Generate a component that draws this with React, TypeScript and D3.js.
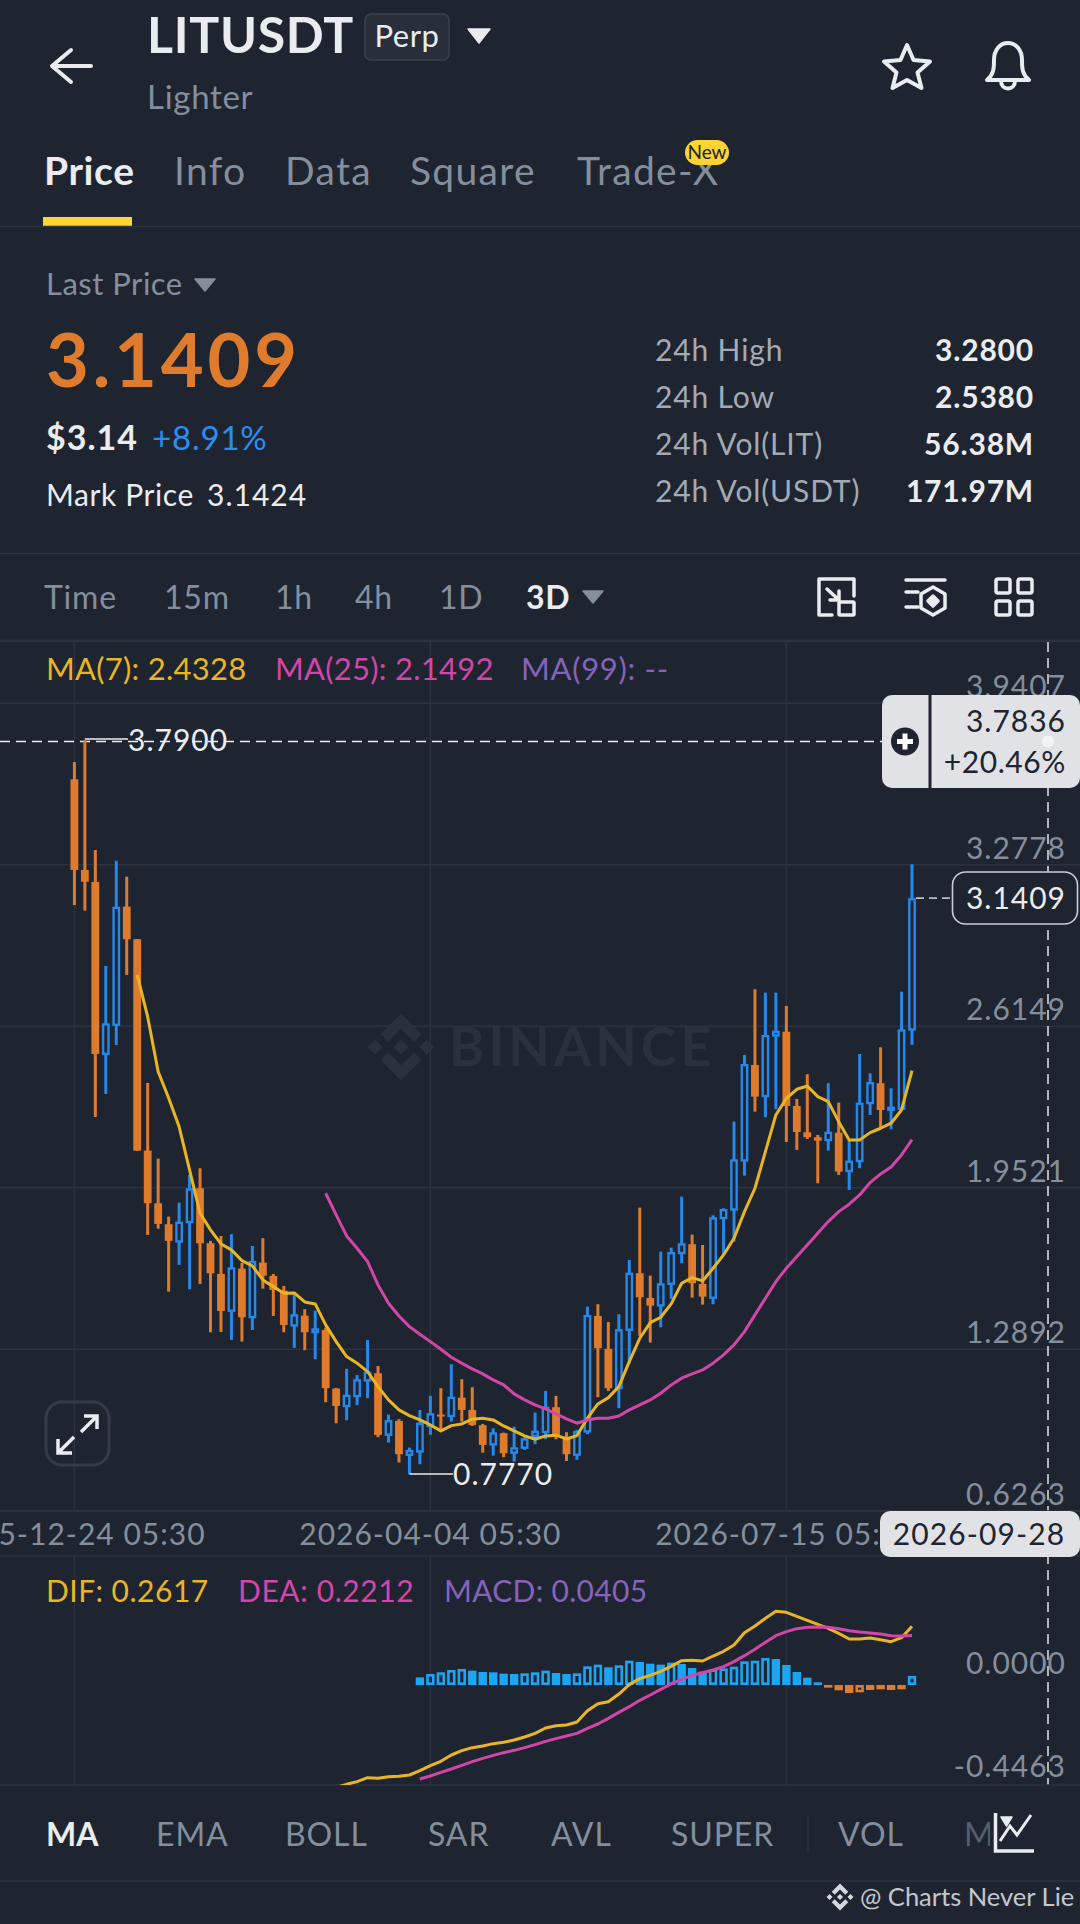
// App.tsx - LITUSDT perp candlestick screen
import React from 'react';
import * as d3 from 'd3';

// candles, oldest first (3D)
const opens = [
  3.6288, 3.2565, 3.2073, 2.4971, 2.6162, 3.1058, 2.972, 2.1043, 1.8883, 1.8022,
  1.7267, 1.8064, 1.95, 1.7242, 1.5982, 1.4422, 1.62, 1.4164, 1.6445, 1.59,
  1.5297, 1.3819, 1.427, 1.3548, 1.3684, 1.1275, 1.0511, 1.0922, 1.1563, 1.1906,
  0.9333, 0.9949, 0.8512, 0.8648, 0.969, 1.0208, 1.0101, 1.0904, 1.04, 0.9772,
  0.8935, 0.9443, 0.8595, 0.88, 0.928, 0.9444, 1.0511, 0.9305, 0.8512, 0.9468,
  1.4259, 1.2905, 1.125, 1.3642, 1.6011, 1.4997, 1.464, 1.553, 1.6791, 1.7201,
  1.5572, 1.4957, 1.8228, 1.8581, 2.0592, 2.4561, 2.3235, 2.5722, 2.5927, 2.2877,
  2.1798, 2.1593, 2.1429, 2.1782, 2.0158, 2.0567, 2.2948, 2.381, 2.2673, 2.2714,
  2.5968,
];
const closes = [
  3.2565, 3.2085, 2.5012, 2.6273, 3.1058, 2.972, 2.1043, 1.8883, 1.8035, 1.7337,
  1.8129, 1.95, 1.7242, 1.6011, 1.4463, 1.6257, 1.4204, 1.6517, 1.5912, 1.5326,
  1.3889, 1.4328, 1.3589, 1.3754, 1.1292, 1.0565, 1.1028, 1.1661, 1.1973, 0.9374,
  0.999, 0.8582, 0.8758, 0.9879, 1.0265, 1.0126, 1.0945, 1.04, 0.9784, 0.8963,
  0.9485, 0.8622, 0.887, 0.9239, 0.9551, 1.0536, 0.9374, 0.8582, 0.9539, 1.43,
  1.2934, 1.1292, 1.3713, 1.6036, 1.5026, 1.4681, 1.56, 1.6885, 1.7242, 1.56,
  1.505, 1.8309, 1.865, 2.069, 2.4602, 2.326, 2.5792, 2.5968, 2.2877, 2.181,
  2.1593, 2.1454, 2.1823, 2.0182, 2.0634, 2.3013, 2.3863, 2.2714, 2.285, 2.6026,
  3.1409,
];
const highs = [
  3.6998, 3.79, 3.3386, 2.8624, 3.2946, 3.229, 2.972, 2.3822, 2.0715, 1.8334,
  1.891, 2.0046, 2.0321, 1.7337, 1.7542, 1.7612, 1.6435, 1.7132, 1.7447, 1.5982,
  1.549, 1.5121, 1.4533, 1.4477, 1.3779, 1.1304, 1.2084, 1.1837, 1.3273, 1.2205,
  1.0208, 1.0019, 0.8853, 1.04, 1.0976, 1.1292, 1.2276, 1.1661, 1.1333, 0.9825,
  0.9649, 0.9468, 0.9715, 0.9305, 1.029, 1.118, 1.0976, 0.9485, 0.958, 1.464,
  1.4739, 1.4012, 1.4328, 1.6557, 1.8704, 1.5913, 1.6898, 1.7062, 1.9155, 1.7596,
  1.7172, 1.8391, 1.8679, 2.2233, 2.4971, 2.7669, 2.7529, 2.7529, 2.6983, 2.3166,
  2.418, 2.1688, 2.381, 2.3013, 2.1483, 2.5012, 2.422, 2.5288, 2.3604, 2.757,
  3.28,
];
const lows = [
  3.1128, 3.0894, 2.2427, 2.337, 2.5382, 2.8255, 2.1031, 1.7583, 1.7842, 1.5256,
  1.6352, 1.5354, 1.5572, 1.3589, 1.36, 1.3274, 1.3204, 1.3683, 1.5378, 1.4258,
  1.3589, 1.2946, 1.2851, 1.2481, 1.0716, 0.9855, 0.9977, 1.0594, 1.0881, 0.928,
  0.9058, 0.8238, 0.777, 0.8171, 0.9374, 0.9608, 0.9921, 0.9921, 0.9743, 0.8647,
  0.8524, 0.8458, 0.8279, 0.8759, 0.8993, 0.9197, 0.9197, 0.8307, 0.8348, 0.9403,
  1.0922, 1.118, 1.047, 1.2317, 1.3436, 1.3164, 1.3794, 1.4955, 1.6421, 1.5009,
  1.4722, 1.4739, 1.6762, 1.7308, 2.0017, 2.2645, 2.2414, 2.2743, 2.1399, 2.1073,
  2.1523, 1.9704, 2.1043, 2.0046, 1.9431, 2.0321, 2.2506, 2.1975, 2.192, 2.2714,
  2.5382,
];

// MA(7) starts at candle 6, MA(25) at candle 24
const ma7Start = 6;
const ma7 = [
  2.8255, 2.6531, 2.4286, 2.3207, 2.2029, 2.0251, 1.8474, 1.7789, 1.7214, 1.6968,
  1.6528, 1.6311, 1.5736, 1.5461, 1.519, 1.5203, 1.4834, 1.4752, 1.389, 1.3204,
  1.2589, 1.2318, 1.1973, 1.1357, 1.0811, 1.04, 1.0166, 0.999, 0.9784, 0.9538,
  0.9756, 0.9825, 1.0018, 1.0059, 0.999, 0.9743, 0.9538, 0.9333, 0.9197, 0.9333,
  0.9362, 0.9208, 0.9346, 1.0059, 1.0646, 1.0904, 1.1357, 1.2382, 1.3342, 1.3983,
  1.4204, 1.4752, 1.56, 1.583, 1.5695, 1.6216, 1.6762, 1.7447, 1.8539, 1.95,
  2.1002, 2.2509, 2.3194, 2.3563, 2.3699, 2.326, 2.3055, 2.2234, 2.1483, 2.1483,
  2.1783, 2.1963, 2.2169, 2.2714, 2.4328,
];
const ma25Start = 24;
const ma25 = [
  1.9294, 1.8404, 1.7543, 1.7037, 1.6488, 1.5531, 1.478, 1.4254, 1.382, 1.3507,
  1.3204, 1.2892, 1.2564, 1.2318, 1.2084, 1.1879, 1.1632, 1.1427, 1.1058, 1.0811,
  1.0606, 1.0441, 1.0236, 1.0031, 0.9854, 0.999, 1.0059, 1.0059, 1.0153, 1.04,
  1.0606, 1.0811, 1.1086, 1.1427, 1.1702, 1.1879, 1.2043, 1.2318, 1.2659, 1.3069,
  1.3615, 1.43, 1.4986, 1.5668, 1.6217, 1.6694, 1.7174, 1.7654, 1.813, 1.8541,
  1.8845, 1.9226, 1.9732, 2.0089, 2.0375, 2.0868, 2.1492,
];

// MACD panel
const difStart = 25;
const dif = [
  -0.4567, -0.4433, -0.4314, -0.4136, -0.4165, -0.4091, -0.4069, -0.4017, -0.3823, -0.36,
  -0.3407, -0.3124, -0.2931, -0.2797, -0.2722, -0.2618, -0.2559, -0.2455, -0.2321, -0.2157,
  -0.1919, -0.1815, -0.1785, -0.1651, -0.1145, -0.0833, -0.0744, -0.0402, 0.0015, 0.0283,
  0.0431, 0.061, 0.0833, 0.1086, 0.1101, 0.1071, 0.1294, 0.1503, 0.1785, 0.2336,
  0.2633, 0.2975, 0.3288, 0.3243, 0.3065, 0.2886, 0.2708, 0.2529, 0.2306, 0.2053,
  0.2053, 0.2098, 0.2023, 0.1934, 0.2112, 0.2617,
];
const macdStart = 33;
const dea = [
  -0.4195, -0.4061, -0.3898, -0.3749, -0.3585, -0.3422, -0.3273, -0.3139, -0.302, -0.2916,
  -0.2797, -0.2663, -0.2514, -0.2395, -0.2276, -0.2157, -0.1934, -0.1741, -0.1488, -0.122,
  -0.0967, -0.0684, -0.0446, -0.0193, 0.0045, 0.0253, 0.0431, 0.055, 0.0669, 0.0818,
  0.1041, 0.1309, 0.1592, 0.1904, 0.2202, 0.238, 0.2514, 0.2574, 0.2589, 0.2574,
  0.2514, 0.2425, 0.2365, 0.2321, 0.2276, 0.2202, 0.2187, 0.2212,
];
const macdHist = [
  0.034, 0.049, 0.0565, 0.067, 0.0714, 0.064, 0.058, 0.0565, 0.0506, 0.049,
  0.052, 0.0565, 0.064, 0.0536, 0.049, 0.052, 0.0833, 0.0907, 0.0788, 0.0878,
  0.1086, 0.1026, 0.0952, 0.0907, 0.0997, 0.0937, 0.0759, 0.0595, 0.0699, 0.0744,
  0.0818, 0.1056, 0.1086, 0.1205, 0.116, 0.0893, 0.058, 0.0327, 0.0119, -0.0119,
  -0.0238, -0.0357, -0.0327, -0.0223, -0.0193, -0.0223, -0.0193, 0.0405,
];
// candles whose histogram bar is drawn hollow
const macdHollow = [34, 35, 36, 37, 43, 44, 45, 48, 49, 50, 52, 53, 57, 61, 62, 63, 64, 65, 66, 75, 76, 80];

const priceTicks = [3.9407, 3.2778, 2.6149, 1.9521, 1.2892, 0.6263];
const timeTicks = [
  { index: 0, label: '2025-12-24 05:30' },
  { index: 34, label: '2026-04-04 05:30' },
  { index: 68, label: '2026-07-15 05:30' },
];
const navTabs = ['Price', 'Info', 'Data', 'Square', 'Trade-X'];
const navX = [44, 174, 285, 410, 577];
const intervals = ['Time', '15m', '1h', '4h', '1D', '3D'];
const intervalX = [44, 164, 275, 355, 439, 526];
const indicators = ['MA', 'EMA', 'BOLL', 'SAR', 'AVL', 'SUPER', 'VOL', 'M'];
const indicatorX = [46, 156, 285, 428, 551, 671, 838, 964];
const statLabels = ['24h High', '24h Low', '24h Vol(LIT)', '24h Vol(USDT)'];
const statValues = ['3.2800', '2.5380', '56.38M', '171.97M'];
const statY = [361, 408, 455, 502];

const BG = '#1E2530';
const GRID = '#2C333F';
const GRAY = '#848E9C';
const WHITE = '#EAECEF';
const UP = '#2688E8';
const DOWN = '#DF7B2C';
const HIST_UP = '#1BA6F5';
const YELLOW = '#E9B525';
const PINK = '#D345A8';
const PURPLE = '#8562BC';
const FONT = 'Lato, "Noto Sans", sans-serif';

const x = d3.scaleLinear().domain([0, 80]).range([74.4, 912]);
const y = d3.scaleLinear().domain([0.6263, 3.9407]).range([1510.7, 703.3]);
const yMacd = d3.scaleLinear().domain([-0.4463, 0]).range([1785, 1685]);

const pathFrom = (values: number[], start: number, scale: (v: number) => number) =>
  d3
    .line<number>()
    .x((_, i) => x(start + i))
    .y((d) => scale(d))(values) ?? '';

const LOGO =
  'M38.73 53.2l24.59-24.58 24.6 24.6 14.3-14.31L63.32 0 24.43 38.9zM0 63.31l14.3-14.31 14.31 14.31-14.31 14.3zM38.73 73.41l24.59 24.59 24.6-24.6 14.31 14.29-38.9 38.91-38.91-38.88-.02-.02zM98 63.31l14.3-14.31 14.31 14.3-14.31 14.32zM77.83 63.3L63.32 48.78 52.59 59.51l-1.24 1.23-2.54 2.54 14.51 14.5 14.51-14.47z';

const Logo = ({ cx, cy, size, fill }: { cx: number; cy: number; size: number; fill: string }) => (
  <path
    d={LOGO}
    fill={fill}
    transform={`translate(${cx - size / 2},${cy - size / 2}) scale(${size / 126.61})`}
  />
);

const Caret = ({ x0, x1, y0, y1, fill }: { x0: number; x1: number; y0: number; y1: number; fill: string }) => (
  <path d={`M${x0} ${y0}H${x1}L${(x0 + x1) / 2} ${y1}Z`} fill={fill} stroke={fill} strokeWidth={1.5} strokeLinejoin="round" />
);

export default function App() {
  const yearGridX = timeTicks.map((t) => x(t.index));
  const barW = 7.8;
  const histW = 8.4;

  return (
    <svg
      width={1080}
      height={1924}
      viewBox="0 0 1080 1924"
      style={{ position: 'absolute', left: 0, top: 0, display: 'block', background: BG }}
      fontFamily={FONT}
    >
      <defs>
        <clipPath id="macd-clip">
          <rect x={0} y={1556} width={1080} height={229} />
        </clipPath>
      </defs>
      <rect width={1080} height={1924} fill={BG} />

      {/* header */}
      <path d="M91 66H53M71 50L52 66L71 82" fill="none" stroke={WHITE} strokeWidth={4} strokeLinecap="round" strokeLinejoin="round" />
      <text x={147} y={53} fontSize={50} fontWeight={700} fill={WHITE} letterSpacing={0.7}>LITUSDT</text>
      <rect x={365} y={14} width={84} height={46} rx={6} fill="#282F3A" stroke="#3A414D" strokeWidth={1.5} />
      <text x={407} y={47} fontSize={31} fill={WHITE} textAnchor="middle" letterSpacing={0.5}>Perp</text>
      <Caret x0={468} x1={490} y0={29} y1={43} fill={WHITE} />
      <text x={147} y={109} fontSize={33} fill={GRAY} letterSpacing={0.7}>Lighter</text>
      <path
        d="M907 45L913.5 60L930 61.5L917.5 72.5L921.5 88L907 80L892.5 88L896.5 72.5L884 61.5L900.5 60Z"
        fill="none"
        stroke={WHITE}
        strokeWidth={4}
        strokeLinejoin="round"
      />
      <path
        d="M987 80C994 74 994 68 994 60C994 50 1000 43 1008 43C1016 43 1022 50 1022 60C1022 68 1022 74 1029 80Z M1001 81C1001 91 1015 91 1015 81"
        fill="none"
        stroke={WHITE}
        strokeWidth={4}
        strokeLinejoin="round"
      />

      {/* nav tabs */}
      {navTabs.map((t, i) => (
        <text key={t} x={navX[i]} y={185} fontSize={39} fontWeight={i === 0 ? 700 : 400} fill={i === 0 ? WHITE : GRAY} letterSpacing={i === 0 ? 0.6 : 1.3}>
          {t}
        </text>
      ))}
      <rect x={43} y={217} width={89} height={9} fill="#FCD535" />
      <line x1={0} x2={1080} y1={226.5} y2={226.5} stroke={GRID} strokeWidth={1.5} />
      <rect x={685} y={140} width={44} height={25} rx={12.5} fill="#FCD535" />
      <text x={707} y={159} fontSize={19} fill="#1E2329" textAnchor="middle">New</text>

      {/* price block */}
      <text x={46} y={295} fontSize={31} fill={GRAY} letterSpacing={0.5}>Last Price</text>
      <Caret x0={195} x1={215} y0={279} y1={291} fill={GRAY} />
      <text x={46} y={387} fontSize={74} fontWeight={700} fill={DOWN} letterSpacing={3.8}>3.1409</text>
      <text x={46} y={450} fontSize={34} fontWeight={700} fill={WHITE} letterSpacing={1}>$3.14</text>
      <text x={152} y={450} fontSize={33} fill="#2B8EEF" letterSpacing={0.8}>+8.91%</text>
      <text x={46} y={506} fontSize={30} fill={WHITE} letterSpacing={0.6}>Mark Price</text>
      <text x={207} y={506} fontSize={30} fill={WHITE} letterSpacing={1}>3.1424</text>
      {statLabels.map((t, i) => (
        <text key={t} x={655} y={statY[i]} fontSize={30} fill="#A4AAB4" letterSpacing={0.85}>{t}</text>
      ))}
      {statValues.map((t, i) => (
        <text key={t} x={1034} y={statY[i]} fontSize={30} fontWeight={700} fill={WHITE} textAnchor="end" letterSpacing={0.8}>{t}</text>
      ))}
      <line x1={0} x2={1080} y1={553.5} y2={553.5} stroke={GRID} strokeWidth={1.5} />

      {/* interval row */}
      {intervals.map((t, i) => (
        <text key={t} x={intervalX[i]} y={609} fontSize={32} fontWeight={t === '3D' ? 700 : 400} fill={t === '3D' ? WHITE : GRAY} letterSpacing={0.8}>
          {t}
        </text>
      ))}
      <Caret x0={583} x1={603} y0={591} y1={603} fill={GRAY} />
      <g fill="none" stroke={WHITE} strokeWidth={3.5} strokeLinecap="round" strokeLinejoin="round">
        <path d="M832 615H819V579H854V596" />
        <rect x={839} y={602} width={15} height={13} rx={1} />
        <path d="M827 589L839 600M839 591V600H830" />
        <path d="M906 580H945M906 592H918M906 607H918" />
        <path d="M933 587L945 594V608L933 615L921 608V594Z" />
        <path d="M933 596L938 601L933 606L928 601Z" fill={WHITE} />
        <rect x={996} y={579} width={14} height={14} rx={2} />
        <rect x={1018} y={579} width={14} height={14} rx={2} />
        <rect x={996} y={601} width={14} height={14} rx={2} />
        <rect x={1018} y={601} width={14} height={14} rx={2} />
      </g>

      {/* grid */}
      <line x1={0} x2={1080} y1={641} y2={641} stroke={GRID} strokeWidth={2.5} />
      {priceTicks.map((p) => (
        <line key={p} x1={0} x2={1080} y1={y(p)} y2={y(p)} stroke={GRID} strokeWidth={1.5} />
      ))}
      {yearGridX.map((gx) => (
        <line key={gx} x1={gx} x2={gx} y1={642} y2={1511} stroke={GRID} strokeWidth={1.5} />
      ))}

      {/* watermark */}
      <Logo cx={401} cy={1047} size={67} fill="#2A313C" />
      <text x={449} y={1066} fontSize={54} fontWeight={700} fill="#2A313C" letterSpacing={3.9}>BINANCE</text>

      {/* legend */}
      <text x={46} y={680} fontSize={31} fill={YELLOW} letterSpacing={0.25}>MA(7): 2.4328</text>
      <text x={275} y={680} fontSize={31} fill={PINK} letterSpacing={0.25}>MA(25): 2.1492</text>
      <text x={521} y={680} fontSize={31} fill={PURPLE} letterSpacing={0.7}>MA(99): --</text>

      {/* axis labels */}
      {priceTicks.map((p) => (
        <text key={p} x={1066} y={y(p) - 6} fontSize={30} fill={GRAY} textAnchor="end" letterSpacing={1}>
          {p.toFixed(4)}
        </text>
      ))}

      {/* crosshair */}
      <line x1={0} x2={882} y1={y(3.7836)} y2={y(3.7836)} stroke={WHITE} strokeWidth={1.6} strokeDasharray="10 6" />
      <line x1={1048} x2={1048} y1={642} y2={1785} stroke={WHITE} strokeWidth={1.6} strokeDasharray="10 6" opacity={0.9} />

      {/* candles */}
      {opens.map((o, i) => {
        const c = closes[i];
        const up = c >= o;
        const color = up ? UP : DOWN;
        const top = y(Math.max(o, c));
        const bottom = y(Math.min(o, c));
        return (
          <g key={i}>
            <line x1={x(i)} x2={x(i)} y1={y(highs[i])} y2={y(lows[i])} stroke={color} strokeWidth={3} />
            {up ? (
              <rect x={x(i) - barW / 2 + 1.2} y={top + 1.2} width={barW - 2.4} height={Math.max(bottom - top - 2.4, 0.5)} fill={BG} stroke={color} strokeWidth={2.4} />
            ) : (
              <rect x={x(i) - barW / 2} y={top} width={barW} height={Math.max(bottom - top, 1.5)} fill={color} />
            )}
          </g>
        );
      })}

      {/* moving averages */}
      <path d={pathFrom(ma7, ma7Start, y)} fill="none" stroke={YELLOW} strokeWidth={3} strokeLinejoin="round" />
      <path d={pathFrom(ma25, ma25Start, y)} fill="none" stroke={PINK} strokeWidth={3} strokeLinejoin="round" />

      {/* high / low markers */}
      <line x1={x(1)} x2={128} y1={y(3.79) - 1} y2={y(3.79) - 1} stroke={WHITE} strokeWidth={1.5} />
      <text x={128} y={751} fontSize={30} fill={WHITE} letterSpacing={1}>3.7900</text>
      <line x1={x(32)} x2={453} y1={y(0.777)} y2={y(0.777)} stroke={WHITE} strokeWidth={1.5} />
      <text x={453} y={1485} fontSize={30} fill={WHITE} letterSpacing={1}>0.7770</text>

      {/* add-order box */}
      <rect x={882} y={695} width={198} height={93} rx={10} fill="#E0E2E6" />
      <rect x={928.5} y={695} width={3} height={93} fill={BG} />
      <circle cx={905} cy={741.5} r={14} fill={BG} />
      <path d="M905 733.5V749.5M897 741.5H913" stroke="#FFFFFF" strokeWidth={5} />
      <circle cx={1048} cy={741.5} r={6} fill="#FFFFFF" opacity={0.6} />
      <text x={1066} y={732} fontSize={30} fill={BG} textAnchor="end" letterSpacing={1}>3.7836</text>
      <text x={1066} y={773} fontSize={30} fill={BG} textAnchor="end" letterSpacing={0.6}>+20.46%</text>

      {/* last price tag */}
      <line x1={x(80) + 4} x2={952} y1={y(3.1409)} y2={y(3.1409)} stroke="#B7BDC6" strokeWidth={1.6} strokeDasharray="8 5" />
      <rect x={952.5} y={872} width={125} height={52} rx={13} fill={BG} stroke="#C9CDD3" strokeWidth={1.6} />
      <text x={1066} y={909} fontSize={30} fill={WHITE} textAnchor="end" letterSpacing={1}>3.1409</text>

      {/* expand button */}
      <rect x={46} y={1402} width={63} height={63} rx={16} fill="none" stroke="#353C48" strokeWidth={3} />
      <path d="M81 1432L96 1417M84 1416H97V1429M74 1437L59 1452M58 1439V1453H72" fill="none" stroke={WHITE} strokeWidth={3.5} />

      {/* time axis */}
      <line x1={0} x2={1080} y1={1511} y2={1511} stroke={GRID} strokeWidth={1.5} />
      <line x1={0} x2={1080} y1={1556} y2={1556} stroke={GRID} strokeWidth={1.5} />
      {timeTicks.map((t) => (
        <text key={t.label} x={x(t.index)} y={1545} fontSize={30} fill={GRAY} textAnchor="middle" letterSpacing={1}>
          {t.label}
        </text>
      ))}
      <rect x={880} y={1511} width={200} height={46} rx={10} fill="#E0E2E6" />
      <text x={979} y={1545} fontSize={30} fill={BG} textAnchor="middle" letterSpacing={1.1}>2026-09-28</text>

      {/* MACD panel */}
      {yearGridX.map((gx) => (
        <line key={gx} x1={gx} x2={gx} y1={1556} y2={1785} stroke={GRID} strokeWidth={1.5} />
      ))}
      <line x1={0} x2={1080} y1={1785} y2={1785} stroke={GRID} strokeWidth={1.5} />
      <text x={46} y={1602} fontSize={30} fill={YELLOW} letterSpacing={0.5}>DIF: 0.2617</text>
      <text x={238} y={1602} fontSize={30} fill={PINK} letterSpacing={0.6}>DEA: 0.2212</text>
      <text x={444} y={1602} fontSize={30} fill={PURPLE} letterSpacing={0.3}>MACD: 0.0405</text>
      <text x={1066} y={1674} fontSize={30} fill={GRAY} textAnchor="end" letterSpacing={1}>0.0000</text>
      <text x={1066} y={1777} fontSize={30} fill={GRAY} textAnchor="end" letterSpacing={1}>-0.4463</text>
      {macdHist.map((v, i) => {
        const idx = macdStart + i;
        const color = v >= 0 ? HIST_UP : DOWN;
        const top = Math.min(yMacd(v), yMacd(0));
        const h = Math.abs(yMacd(v) - yMacd(0));
        return macdHollow.includes(idx) ? (
          <rect key={idx} x={x(idx) - histW / 2 + 1.3} y={top + 1.3} width={histW - 2.6} height={Math.max(h - 2.6 , 0.5)} fill={BG} stroke={color} strokeWidth={2.6} />
        ) : (
          <rect key={idx} x={x(idx) - histW / 2} y={top} width={histW} height={Math.max(h, 1.5)} fill={color} />
        );
      })}
      <g clipPath="url(#macd-clip)">
        <path d={pathFrom(dif, difStart, yMacd)} fill="none" stroke={YELLOW} strokeWidth={3} strokeLinejoin="round" />
        <path d={pathFrom(dea, macdStart, yMacd)} fill="none" stroke={PINK} strokeWidth={3} strokeLinejoin="round" />
      </g>

      {/* indicator bar */}
      {indicators.map((t, i) => (
        <text key={t} x={indicatorX[i]} y={1846} fontSize={32} fontWeight={t === 'MA' ? 700 : 400} fill={t === 'MA' ? WHITE : t === 'M' ? '#565E6B' : GRAY} letterSpacing={t === 'MA' ? 0 : 0.9}>
          {t}
        </text>
      ))}
      <line x1={808} x2={808} y1={1816} y2={1851} stroke={GRID} strokeWidth={1.5} />
      <rect x={990} y={1812} width={50} height={44} fill={BG} />
      <path d="M995.5 1813V1851H1034" fill="none" stroke={WHITE} strokeWidth={3.5} />
      <path d="M1000 1841L1010 1826L1017 1835L1031 1815" fill="none" stroke={WHITE} strokeWidth={3} />
      <Caret x0={1001} x1={1012} y0={1817} y1={1826} fill={WHITE} />
      <line x1={0} x2={1080} y1={1881} y2={1881} stroke={GRID} strokeWidth={1.5} />
      <Logo cx={840} cy={1897} size={27} fill="#D5D8DD" />
      <text x={860} y={1906} fontSize={25.5} fill="#C4C8CE">@ Charts Never Lie</text>
    </svg>
  );
}
